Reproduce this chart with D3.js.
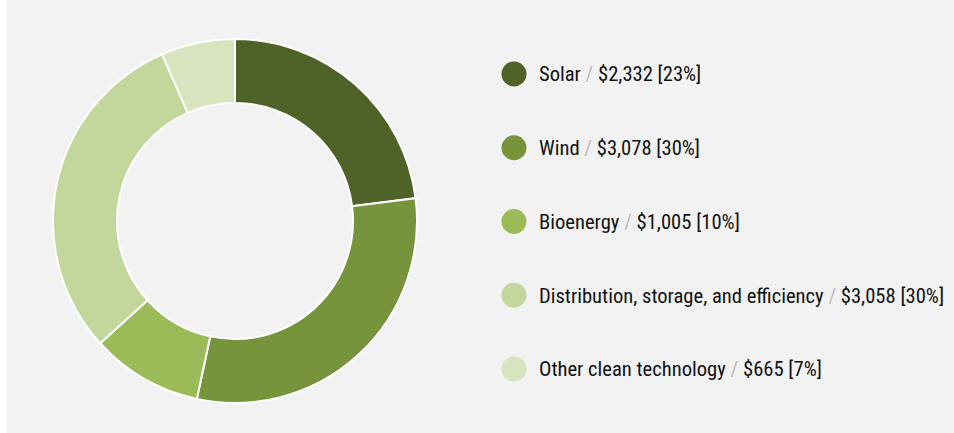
<!DOCTYPE html>
<html>
<head>
<meta charset="utf-8">
<script src="https://cdnjs.cloudflare.com/ajax/libs/d3/7.8.5/d3.min.js"></script>
<style>
  html, body { margin: 0; padding: 0; background: #fff; }
  svg { display: block; }
  text { font-family: "Liberation Sans Narrow", "Roboto Condensed", "DejaVu Sans Condensed", sans-serif; }
</style>
</head>
<body>
<svg id="chart"></svg>
<script>
let categories = ['Solar', 'Wind', 'Bioenergy', 'Distribution, storage, and efficiency', 'Other clean technology']
let amounts = [2332, 3078, 1005, 3058, 665]
let amountLabels = ['$2,332', '$3,078', '$1,005', '$3,058', '$665']
let percentLabels = ['[23%]', '[30%]', '[10%]', '[30%]', '[7%]']
let colors = ['#4f6228', '#77933c', '#9bbb59', '#c3d69b', '#d7e4bd']

let width = 954,
    height = 433,
    cx = 235,
    cy = 221,
    outerR = 182,
    innerR = 118

let $svg = d3.select('#chart')
    .attr('width', width)
    .attr('height', height)

$svg.append('rect')
    .attr('x', 7)
    .attr('y', 0)
    .attr('width', width - 7)
    .attr('height', height)
    .attr('fill', '#f2f2f2')

let data = categories.map((c, i) => {
    return {name: c, value: amounts[i], amount: amountLabels[i], pct: percentLabels[i], color: colors[i]}
})

let pie = d3.pie()
    .value(d => d.value)
    .sort(null)

let arc = d3.arc()
    .innerRadius(innerR)
    .outerRadius(outerR)

$svg.append('g')
    .attr('transform', 'translate(' + cx + ',' + cy + ')')
    .selectAll('path')
    .data(pie(data))
    .enter().append('path')
    .attr('d', arc)
    .attr('fill', d => d.data.color)
    .attr('stroke', '#fff')
    .attr('stroke-width', 2)

// legend rows
let yScale = d3.scalePoint()
    .domain(categories)
    .range([74, 369])

let $rows = $svg.append('g')
    .selectAll('g')
    .data(data)
    .enter().append('g')
    .attr('transform', d => 'translate(514,' + yScale(d.name) + ')')

$rows.append('circle')
    .attr('r', 12.5)
    .attr('fill', d => d.color)

let $text = $rows.append('text')
    .attr('x', 25)
    .attr('dy', '0.36em')
    .attr('font-size', 20.6)
    .attr('fill', '#111')

$text.append('tspan').text(d => d.name + ' ')
$text.append('tspan').attr('fill', '#bbbbbb').text('/')
$text.append('tspan').text(d => ' ' + d.amount + ' ' + d.pct)
</script>
</body>
</html>
